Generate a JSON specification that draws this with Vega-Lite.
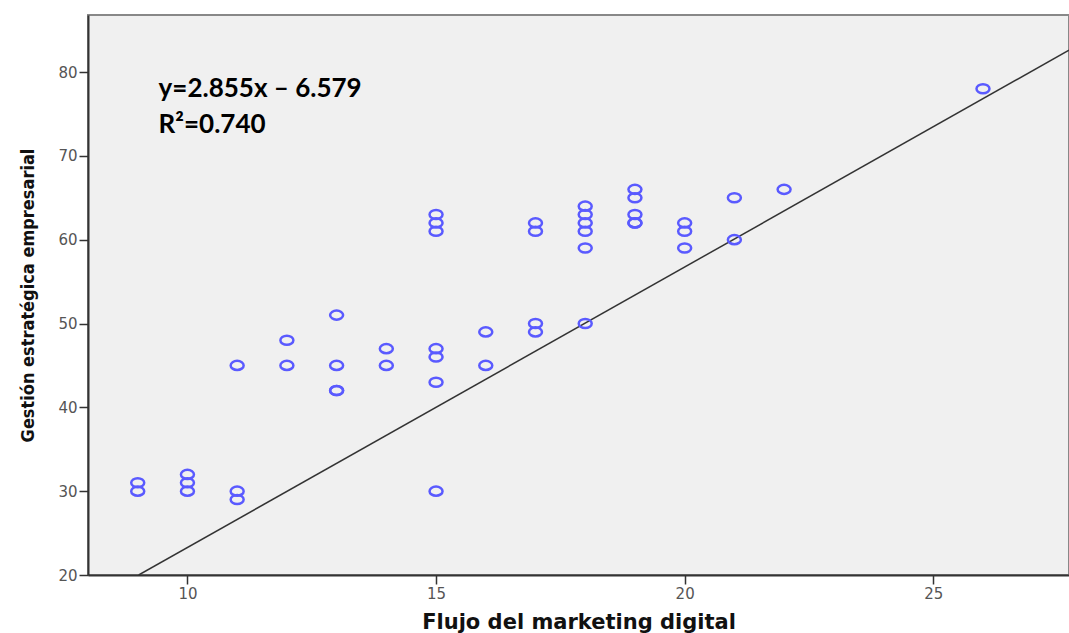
{
  "$schema": "https://vega.github.io/schema/vega-lite/v6.json",
  "width": 981,
  "height": 560,
  "autosize": {"type": "none"},
  "padding": {"left": 88, "top": 15, "right": 0, "bottom": 58},
  "background": "white",
  "config": {
    "view": {"fill": "#f0f0f0", "stroke": "#888888", "strokeWidth": 2},
    "axis": {"grid": false, "domainColor": "#333333", "domainWidth": 2, "tickColor": "#333333", "tickWidth": 1.5, "tickSize": 9, "labelPadding": 2,
      "labelFont": "DejaVu Sans", "labelFontSize": 15, "labelColor": "#555555",
      "titleFont": "DejaVu Sans", "titleFontWeight": "bold", "titleFontSize": 21, "titleColor": "#111111"}
  },
  "datasets": {
    "pts": [
      {"x": 9, "y": 30}, {"x": 9, "y": 31},
      {"x": 10, "y": 30}, {"x": 10, "y": 31}, {"x": 10, "y": 32},
      {"x": 11, "y": 29}, {"x": 11, "y": 30}, {"x": 11, "y": 45},
      {"x": 12, "y": 45}, {"x": 12, "y": 48},
      {"x": 13, "y": 42}, {"x": 13, "y": 42}, {"x": 13, "y": 45}, {"x": 13, "y": 51},
      {"x": 14, "y": 45}, {"x": 14, "y": 47},
      {"x": 15, "y": 30}, {"x": 15, "y": 43}, {"x": 15, "y": 46}, {"x": 15, "y": 47}, {"x": 15, "y": 61}, {"x": 15, "y": 62}, {"x": 15, "y": 63},
      {"x": 16, "y": 45}, {"x": 16, "y": 49},
      {"x": 17, "y": 49}, {"x": 17, "y": 50}, {"x": 17, "y": 61}, {"x": 17, "y": 62},
      {"x": 18, "y": 50}, {"x": 18, "y": 59}, {"x": 18, "y": 61}, {"x": 18, "y": 62}, {"x": 18, "y": 63}, {"x": 18, "y": 64},
      {"x": 19, "y": 62}, {"x": 19, "y": 62}, {"x": 19, "y": 63}, {"x": 19, "y": 65}, {"x": 19, "y": 66},
      {"x": 20, "y": 59}, {"x": 20, "y": 61}, {"x": 20, "y": 62},
      {"x": 21, "y": 60}, {"x": 21, "y": 65},
      {"x": 22, "y": 66},
      {"x": 26, "y": 78}
    ],
    "fit": [{"x": 9.02, "y": 20}, {"x": 27.73, "y": 82.6}],
    "notes": [
      {"x": 9.42, "y": 77.0, "label": "y=2.855x – 6.579"},
      {"x": 9.42, "y": 72.7, "label": "R²=0.740"}
    ]
  },
  "layer": [
    {
      "data": {"name": "fit"},
      "mark": {"type": "line", "color": "#333333", "strokeWidth": 1.5, "clip": true},
      "encoding": {
        "x": {"field": "x", "type": "quantitative", "scale": {"domain": [8, 27.73], "nice": false, "zero": false},
          "axis": {"values": [10, 15, 20, 25], "title": "Flujo del marketing digital", "titlePadding": 10}},
        "y": {"field": "y", "type": "quantitative", "scale": {"domain": [20, 86.8], "nice": false, "zero": false},
          "axis": {"values": [20, 30, 40, 50, 60, 70, 80], "title": "Gestión estratégica empresarial", "titlePadding": 20,
            "titleFont": "DejaVu Sans Condensed", "titleFontSize": 18}}
      }
    },
    {
      "data": {"name": "pts"},
      "mark": {"type": "point", "shape": "M-1,0A1,0.7 0 1,0 1,0A1,0.7 0 1,0 -1,0Z", "size": 169, "filled": false, "stroke": "#5a5aff", "strokeWidth": 2.5, "opacity": 1},
      "encoding": {
        "x": {"field": "x", "type": "quantitative"},
        "y": {"field": "y", "type": "quantitative"}
      }
    },
    {
      "data": {"name": "notes"},
      "mark": {"type": "text", "align": "left", "baseline": "alphabetic", "font": "Lato", "fontWeight": "bold", "fontSize": 26, "color": "#000000"},
      "encoding": {
        "x": {"field": "x", "type": "quantitative"},
        "y": {"field": "y", "type": "quantitative"},
        "text": {"field": "label"}
      }
    }
  ]
}
